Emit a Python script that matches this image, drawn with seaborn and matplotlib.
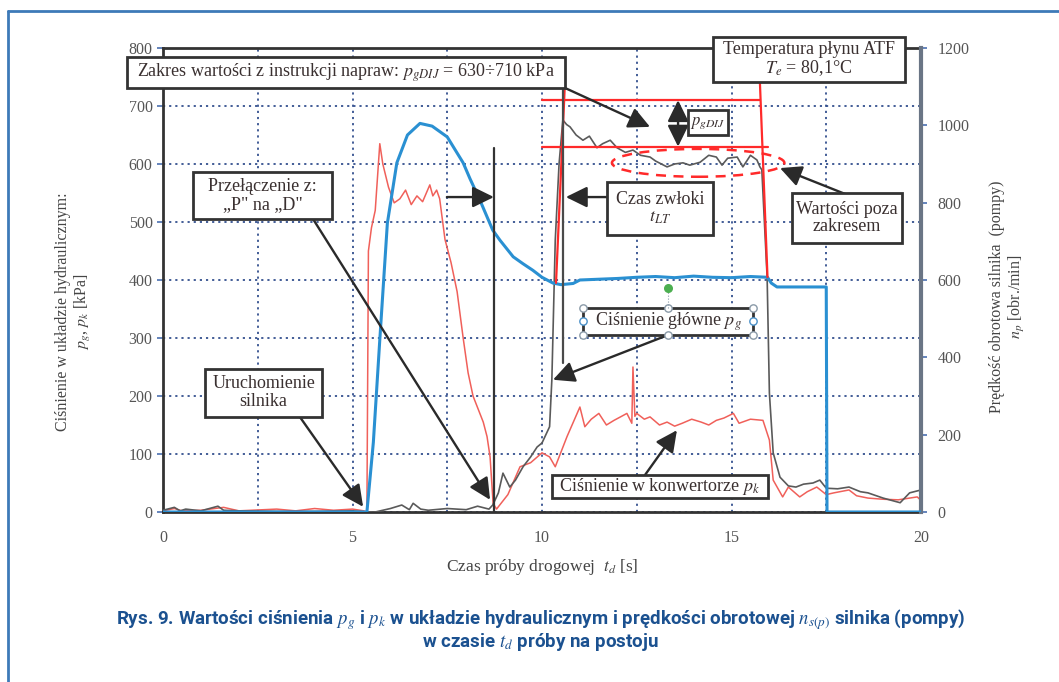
import numpy as np
import pandas as pd
import matplotlib
matplotlib.use("Agg")
import matplotlib.pyplot as plt
import seaborn as sns
from matplotlib.patches import Rectangle, Ellipse
from matplotlib.lines import Line2D

# ---------------- data ----------------
t_pg = [0, 0.3, 0.45, 0.6, 1.0, 1.45, 1.6, 2.0, 3.0, 4.0,
        5.0, 5.38, 5.6, 6.0, 6.3, 6.5, 6.6, 6.8, 7.0, 7.5,
        8.0, 8.3, 8.6, 8.7, 8.85, 8.97, 9.15, 9.3, 9.5, 9.7,
        9.87, 10.0, 10.2, 10.26, 10.35, 10.45, 10.55, 10.65, 10.74, 10.9,
        11.08, 11.25, 11.45, 11.6, 11.8, 11.98, 12.2, 12.4, 12.6, 12.85,
        13.0, 13.3, 13.5, 13.72, 13.9, 14.17, 14.4, 14.6, 14.75, 14.9,
        15.15, 15.3, 15.5, 15.67, 15.75, 15.8, 15.94, 16.0, 16.1, 16.28,
        16.5, 16.7, 16.9, 17.15, 17.33, 17.5, 17.8, 18.1, 18.4, 18.6,
        19.0, 19.45, 19.7, 20.0]
p_g = [3, 8, 2, 5, 2, 10, 3, 2, 1, 1,
       2, 0, 0, 6, 12, 4, 15, 5, 3, 6,
       4, 10, 5, 12, 33, 67, 43, 55, 78, 95,
       112, 119, 147, 228, 469, 600, 676, 668, 664, 650,
       641, 648, 628, 635, 641, 628, 620, 624, 615, 612,
       605, 595, 600, 602, 598, 603, 615, 612, 598, 610,
       612, 595, 615, 607, 595, 590, 405, 205, 102, 60,
       45, 43, 48, 50, 55, 41, 40, 43, 35, 33,
       24, 16, 33, 38]

t_pk = [0, 0.3, 0.5, 1.0, 1.6, 2.0, 3.0, 3.5, 4.0, 4.5,
        5.0, 5.3, 5.38, 5.42, 5.5, 5.6, 5.72, 5.8, 5.95, 6.1,
        6.25, 6.4, 6.55, 6.7, 6.85, 7.04, 7.12, 7.22, 7.3, 7.44,
        7.6, 7.76, 7.92, 8.05, 8.18, 8.3, 8.45, 8.55, 8.63, 8.71,
        8.8, 9.1, 9.42, 9.7, 10.0, 10.2, 10.35, 10.66, 11.0, 11.13,
        11.3, 11.5, 11.7, 11.9, 12.1, 12.24, 12.37, 12.4, 12.45, 12.5,
        12.7, 12.85, 13.1, 13.3, 13.5, 13.7, 13.95, 14.2, 14.4, 14.6,
        14.8, 15.05, 15.2, 15.5, 15.83, 16.0, 16.1, 16.35, 16.5, 16.8,
        17.0, 17.25, 17.5, 17.7, 18.1, 18.3, 18.6, 19.0, 19.4, 19.9,
        20.0]
p_k = [2, 6, 2, 3, 8, 2, 5, 2, 6, 3,
       5, 2, 0, 450, 490, 520, 635, 600, 560, 533,
       540, 555, 530, 545, 535, 564, 545, 555, 540, 470,
       430, 380, 300, 240, 200, 180, 155, 130, 95, 15,
       5, 30, 78, 85, 102, 95, 78, 130, 181, 147,
       160, 170, 150, 158, 165, 170, 153, 250, 165, 170,
       160, 164, 150, 155, 148, 153, 160, 155, 150, 158,
       162, 170, 153, 160, 158, 124, 55, 26, 43, 26,
       35, 43, 30, 33, 38, 28, 24, 22, 21, 26,
       20]

t_np = [0, 5.38, 5.55, 5.72, 5.92, 6.17, 6.45, 6.78, 7.1, 7.5,
        7.7, 7.92, 8.1, 8.36, 8.7, 8.89, 9.24, 9.5, 9.76, 10.0,
        10.29, 10.5, 10.82, 11.0, 11.5, 12.0, 12.5, 13.0, 13.5, 14.0,
        14.5, 15.0, 15.5, 15.95, 16.05, 16.2, 17.5, 17.52, 20.0]
n_p = [0, 0, 180, 445, 747, 903, 975, 1005, 998, 970,
       938, 903, 862, 807, 729, 703, 660, 642, 625, 607,
       592, 588, 591, 600, 602, 604, 607, 609, 606, 610,
       607, 606, 609, 607, 592, 582, 582, 0, 0]

# range from repair manual
pg_dij_low = 630
pg_dij_high = 710
# event times
t_switch_PD = 8.73
t_pg_rise = 10.55

x_ticks = [0, 5, 10, 15, 20]
y_left_ticks = [0, 100, 200, 300, 400, 500, 600, 700, 800]
y_right_ticks = [0, 200, 400, 600, 800, 1000, 1200]

# ---------------- style ----------------
sns.set_theme(style="white")
plt.rcParams['font.family'] = ['Liberation Serif', 'DejaVu Serif']
plt.rcParams['mathtext.fontset'] = 'stix'

W, H = 1059, 682
fig = plt.figure(figsize=(W / 100, H / 100), dpi=100)
fig.patch.set_facecolor('white')
ax = fig.add_axes([163 / W, 1 - 512 / H, (921 - 163) / W, (512 - 48) / H])
ax2 = ax.twinx()

df_pg = pd.DataFrame({'t': t_pg, 'v': p_g})
df_pk = pd.DataFrame({'t': t_pk, 'v': p_k})
df_np = pd.DataFrame({'t': t_np, 'v': n_p})

sns.lineplot(data=df_pk, x='t', y='v', ax=ax, color='#f0605a', lw=1.1, sort=False, zorder=3)
sns.lineplot(data=df_pg, x='t', y='v', ax=ax, color='#5a5a5a', lw=1.2, sort=False, zorder=3)
sns.lineplot(data=df_np, x='t', y='v', ax=ax2, color='#2a90d2', lw=2.2, sort=False, zorder=4)

ax.set_xlim(0, 20)
ax.set_ylim(0, 800)
ax2.set_ylim(0, 1200)
ax.set_xticks(x_ticks)
ax.set_xticks(np.arange(0, 20.1, 2.5), minor=True)
ax.set_yticks(y_left_ticks)
ax2.set_yticks(y_right_ticks)

grid_kw = dict(color='#34508f', linestyle=(0, (1.2, 2.2)), linewidth=1.3)
ax.grid(axis='x', which='both', **grid_kw)
ax.grid(axis='y', which='major', **grid_kw)
ax2.grid(False)
ax.set_axisbelow(True)

tick_col = '#555555'
ax.tick_params(axis='x', which='both', length=0, labelsize=11.5, labelcolor=tick_col, pad=13)
ax.tick_params(axis='y', length=4, width=1.2, color='#4a6fb0', labelsize=11.5,
               labelcolor=tick_col, direction='out', left=True)
ax2.tick_params(axis='y', length=4, width=1.2, color='#4a6fb0', labelsize=11.5,
                labelcolor=tick_col, direction='out', right=True, pad=8)

for s in ['left', 'top', 'bottom']:
    ax.spines[s].set_color('#333333')
    ax.spines[s].set_linewidth(2)
    ax2.spines[s].set_visible(False)
ax.spines['right'].set_visible(False)
ax2.spines['right'].set_color('#6a7585')
ax2.spines['right'].set_linewidth(3)
ax2.spines['left'].set_visible(False)

ax.set_xlabel('Czas próby drogowej  $t_d$ [s]', fontsize=12.5, color='#444444', labelpad=8)
ax.set_ylabel('')
ax2.set_ylabel('')
fig.text(74 / W, 1 - 312 / H, 'Ciśnienie w układzie hydraulicznym:\n$p_g$, $p_k$ [kPa]',
         rotation=90, ha='center', va='center', fontsize=11.5, color='#444444',
         linespacing=1.15)
fig.text(1008 / W, 1 - 297 / H, 'Prędkość obrotowa silnika  (pompy)\n$n_p$ [obr./min]',
         rotation=90, ha='center', va='center', fontsize=11.5, color='#444444',
         linespacing=1.15)

# ---------------- annotations (drawn on top axes, in left-axis coords) ----------------
T = ax.transData
red = '#ff2a2a'
dark = '#2a2a2a'

# limit lines
ax2.plot([10.0, 15.75], [pg_dij_high, pg_dij_high], color=red, lw=1.6, transform=T, zorder=6)
ax2.plot([10.0, 15.95], [pg_dij_low, pg_dij_low], color=red, lw=1.6, transform=T, zorder=6)
ax2.plot([10.37, 10.6], [395, 733], color=red, lw=1.6, transform=T, zorder=6)
ax2.plot([15.75, 15.95], [740, 405], color=red, lw=1.6, transform=T, zorder=6)
# event marker lines
ax2.plot([t_switch_PD, t_switch_PD], [0, 627], color='#333333', lw=1.6, transform=T, zorder=6)
ax2.plot([t_pg_rise, t_pg_rise], [257, 733], color='#4a4a4a', lw=1.6, transform=T, zorder=6)

# dashed ellipse
ax2.add_patch(Ellipse((14.12, 602), 4.55, 48, transform=T, fill=False, ec=red,
                      lw=1.8, ls=(0, (4, 3)), zorder=7))

arrow_kw = dict(arrowstyle='-|>,head_length=0.65,head_width=0.32', color=dark, lw=1.7,
                mutation_scale=20, shrinkA=0, shrinkB=0)


def arrow(x0, y0, x1, y1, style=None):
    kw = dict(arrow_kw)
    if style:
        kw['arrowstyle'] = style
    ax2.annotate('', xy=(x1, y1), xytext=(x0, y0), xycoords=T, textcoords=T,
                 arrowprops=kw, zorder=8, annotation_clip=False)


def box(t0, t1, p0, p1, text, fs=13):
    ax2.add_patch(Rectangle((t0, p0), t1 - t0, p1 - p0, transform=T, fc='white',
                            ec='#333333', lw=2, zorder=9, clip_on=False))
    ax2.text((t0 + t1) / 2, (p0 + p1) / 2, text, transform=T, ha='center', va='center',
             fontsize=fs, color='#3a3030', zorder=10, linespacing=1.05, clip_on=False)


arrow(10.61, 731, 12.85, 664)
arrow(11.72, 543, 10.63, 543)
arrow(7.49, 543, 8.73, 543)
arrow(18.05, 547, 16.28, 593)
arrow(3.96, 505, 8.63, 21)
arrow(3.61, 164, 5.28, 9)
arrow(13.32, 305, 10.29, 228)
arrow(12.72, 64, 13.56, 141)
arrow(13.59, 630, 13.59, 710, style='<|-|>,head_length=0.65,head_width=0.32')

box(-0.95, 10.61, 731, 784.5, 'Zakres wartości z instrukcji napraw: $p_{gDIJ}$ = 630÷710 kPa')
box(14.51, 19.58, 741, 819, 'Temperatura płynu ATF\n$T_e$ = 80,1°C')
box(13.85, 14.91, 650, 693, '$p_{gDIJ}$', fs=12)
box(11.72, 14.51, 478, 569, 'Czas zwłoki\n$t_{LT}$')
box(16.6, 19.5, 464, 550, 'Wartości poza\nzakresem')
box(0.79, 4.46, 505, 586, 'Przełączenie z:\n„P" na „D"')
box(1.11, 4.2, 164, 247, 'Uruchomienie\nsilnika')
box(11.08, 15.57, 305, 352, 'Ciśnienie główne $p_g$')
box(10.26, 15.96, 24, 64, 'Ciśnienie w konwertorze $p_k$')

# selection handles around "Ciśnienie główne" box
hx = [11.08, 13.32, 15.57, 11.08, 13.32, 15.57]
hy = [352, 352, 352, 305, 305, 305]
ax2.scatter(hx, hy, s=28, facecolor='white', edgecolor='#8a9aa8', lw=1, transform=T,
            zorder=11, clip_on=False)
ax2.scatter([11.08, 15.57], [328.5, 328.5], s=28, facecolor='white', edgecolor='#4a90c8',
            lw=1, transform=T, zorder=11, clip_on=False)
ax2.plot([13.32, 13.32], [352, 386], color='#8a9aa8', lw=0.8, ls=':', transform=T, zorder=11)
ax2.scatter([13.32], [386], s=30, color='#4caf50', transform=T, zorder=11, clip_on=False)

# ---------------- caption & frame ----------------
cap_col = '#1b5190'
cap_font = ['Roboto', 'DejaVu Sans']
fig.text(0.5105, 1 - 620 / H,
         'Rys. 9. Wartości ciśnienia $p_g$ i $p_k$ w układzie hydraulicznym i prędkości obrotowej '
         '$n_{s(p)}$ silnika (pompy)',
         ha='center', va='center', fontsize=13.5, fontweight='bold', color=cap_col,
         family=cap_font)
fig.text(0.5105, 1 - 642 / H, 'w czasie $t_d$ próby na postoju',
         ha='center', va='center', fontsize=13.5, fontweight='bold', color=cap_col,
         family=cap_font)

fig.add_artist(Line2D([8 / W, 8 / W], [0, 1 - 11 / H], transform=fig.transFigure,
                      color='#3d7ab8', lw=2))
fig.add_artist(Line2D([8 / W, 1], [1 - 11 / H, 1 - 11 / H], transform=fig.transFigure,
                      color='#3d7ab8', lw=2))

fig.savefig('out.png', dpi=100)
